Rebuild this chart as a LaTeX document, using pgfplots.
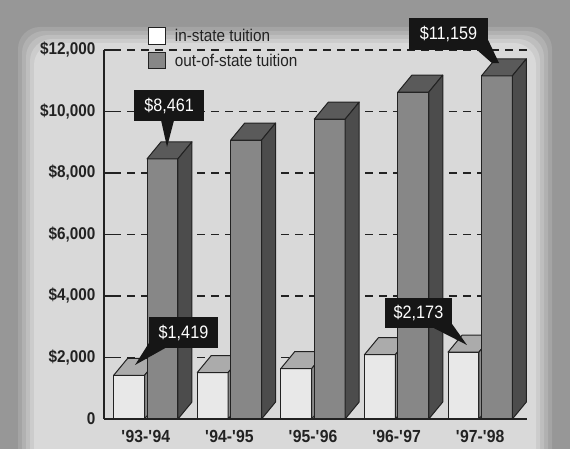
\documentclass[border=0pt]{standalone}
\usepackage{pgfplots}
\pgfplotsset{compat=1.18}
\usepackage{pgfplotstable}
\usepackage{fontspec}
\setmainfont{Liberation Sans}[FakeStretch=0.9]
\definecolor{bgout}{HTML}{979797}
\definecolor{bgin}{HTML}{D9D9D9}
\definecolor{ink}{HTML}{222222}
\definecolor{infront}{HTML}{E8E8E8}
\definecolor{intop}{HTML}{ABABAB}
\definecolor{inside}{HTML}{8A8A8A}
\definecolor{outfront}{HTML}{878787}
\definecolor{outtop}{HTML}{5A5A5A}
\definecolor{outside}{HTML}{4C4C4C}
\definecolor{callout}{HTML}{161616}

\pgfplotstableread{
x in out
0 1419 8461
1 1510 9070
2 1640 9750
3 2090 10630
4 2173 11159
}\tuition

% top and side faces of a 3-D bar; origin = top centre of the front face
\newcommand\boxfaces[2]{%
  \pgfmathsetlengthmacro\hh{\val/12000*369}%
  \pgfsetlinewidth{1pt}\pgfsetstrokecolor{ink}\pgfsetroundjoin
  \pgfsetfillcolor{#1}%
  \pgfpathmoveto{\pgfpoint{-15.45pt}{0pt}}%
  \pgfpathlineto{\pgfpoint{-1.45pt}{17pt}}%
  \pgfpathlineto{\pgfpoint{29.45pt}{17pt}}%
  \pgfpathlineto{\pgfpoint{15.45pt}{0pt}}%
  \pgfpathclose\pgfusepath{fill,stroke}%
  \pgfsetfillcolor{#2}%
  \pgfpathmoveto{\pgfpoint{15.45pt}{0pt}}%
  \pgfpathlineto{\pgfpoint{29.45pt}{17pt}}%
  \pgfpathlineto{\pgfpoint{29.45pt}{17pt-\hh}}%
  \pgfpathlineto{\pgfpoint{15.45pt}{-\hh}}%
  \pgfpathclose\pgfusepath{fill,stroke}%
}
\pgfdeclareplotmark{inbox}{\boxfaces{intop}{inside}}
\pgfdeclareplotmark{outbox}{\boxfaces{outtop}{outside}}

\begin{document}
\begin{tikzpicture}
% background
\begin{scope}
\clip (0,0) rectangle (570pt,449pt);
\fill[bgout] (0,0) rectangle (570pt,449pt);
\foreach \i/\m in {18/20,14/40,10/60,6/80,2/100}{
  \fill[bgin!\m!bgout, rounded corners=22pt] (36pt-\i pt,-30pt) rectangle (534pt+\i pt,404pt+\i pt);
}
\end{scope}
\begin{axis}[
  at={(104pt,30pt)}, anchor=south west,
  scale only axis, width=423pt, height=369pt,
  xmin=-0.5, xmax=4.56, ymin=0, ymax=12000,
  clip=false, clip marker paths=true,
  axis lines*=left,
  axis line style={ink, line width=1.4pt},
  xtick={0,1,2,3,4},
  xticklabels={\textquotesingle93-\textquotesingle94,\textquotesingle94-\textquotesingle95,\textquotesingle95-\textquotesingle96,\textquotesingle96-\textquotesingle97,\textquotesingle97-\textquotesingle98},
  xtick style={draw=none},
  xticklabel style={font=\bfseries\fontsize{17.5}{20}\selectfont, text=ink, yshift=-8pt},
  scaled y ticks=false,
  ytick={0,2000,4000,6000,8000,10000,12000},
  yticklabels={0,{\$2,000},{\$4,000},{\$6,000},{\$8,000},{\$10,000},{\$12,000}},
  yticklabel style={font=\bfseries\fontsize{17}{20}\selectfont, text=ink, xshift=-5pt},
  tick align=inside, major tick length=9pt,
  ytick style={ink, line width=1.4pt},
  ymajorgrids,
  major grid style={ink, line width=1.3pt, dash pattern=on 8pt off 6pt, dash phase=-9pt},
  legend style={at={(rel axis cs:0.104,1.062)}, anchor=north west, draw=none, fill=none,
     inner sep=0pt, row sep=7pt, font=\fontsize{17}{20}\selectfont,
     nodes={inner sep=1pt, text=ink}},
  legend cell align=left,
]
\addlegendimage{legend image code/.code={\draw[fill=white,draw=ink,line width=1pt] (0pt,-8.5pt) rectangle (17pt,8.5pt); \path (25pt,0pt);}}
\addlegendentry{in-state tuition}
\addlegendimage{legend image code/.code={\draw[fill=outfront,draw=ink,line width=1pt] (0pt,-8pt) rectangle (17pt,8pt); \path (25pt,0pt);}}
\addlegendentry{out-of-state tuition}

\addplot[ybar, bar width=0.37, bar shift=0pt, fill=infront, draw=ink, line width=1pt, forget plot]
  table[x expr=\thisrow{x}-0.2, y=in] {\tuition};
\addplot[only marks, mark=inbox, visualization depends on={\thisrow{in} \as \val}, forget plot]
  table[x expr=\thisrow{x}-0.2, y=in] {\tuition};
\addplot[ybar, bar width=0.37, bar shift=0pt, fill=outfront, draw=ink, line width=1pt, forget plot]
  table[x expr=\thisrow{x}+0.2, y=out] {\tuition};
\addplot[only marks, mark=outbox, visualization depends on={\thisrow{out} \as \val}, forget plot]
  table[x expr=\thisrow{x}+0.2, y=out] {\tuition};

% anchor points for the callouts
\coordinate (p1) at (axis cs:0.278,10195);
\coordinate (t1) at (axis cs:0.254,8845);
\coordinate (p2) at (axis cs:0.451,2813);
\coordinate (t2) at (axis cs:-0.129,1756);
\coordinate (p3) at (axis cs:3.262,3447);
\coordinate (t3) at (axis cs:3.842,2406);
\coordinate (p4) at (axis cs:3.621,12520);
\coordinate (t4) at (axis cs:4.225,11577);
\coordinate (u4) at (axis cs:4.14,11577);
\end{axis}
% callouts
\tikzset{co/.style={fill=callout, text=white, inner sep=0pt, font=\fontsize{18}{20}\selectfont}}
\node[co, minimum width=70pt, minimum height=31pt] (c1) at (p1) {\$8,461};
\fill[callout] ([xshift=-8pt,yshift=1pt]c1.south) -- ([xshift=5pt,yshift=1pt]c1.south) -- (t1) -- cycle;
\node[co, minimum width=69pt, minimum height=31pt] (c2) at (p2) {\$1,419};
\fill[callout] ([yshift=5pt]c2.south west) -- ([xshift=18pt,yshift=1pt]c2.south west) -- (t2) -- cycle;
\node[co, minimum width=67pt, minimum height=30pt] (c3) at (p3) {\$2,173};
\fill[callout] ([xshift=-20pt,yshift=1pt]c3.south east) -- ([yshift=4pt]c3.south east) -- (t3) -- cycle;
\node[co, minimum width=79pt, minimum height=32pt] (c4) at (p4) {\$11,159};
\fill[callout] ([xshift=-12pt,yshift=1pt]c4.south east) -- ([yshift=10pt]c4.south east) -- (t4) -- (u4) -- cycle;
\end{tikzpicture}
\end{document}
